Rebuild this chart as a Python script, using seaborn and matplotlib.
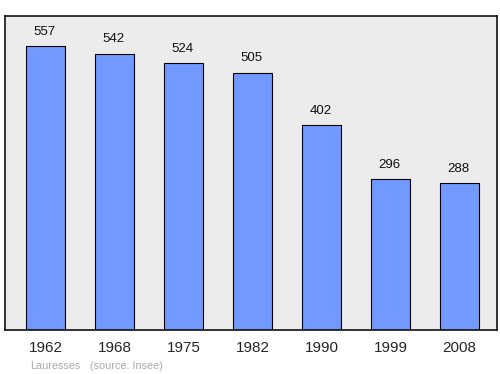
import matplotlib
matplotlib.use("Agg")
import matplotlib.pyplot as plt
import seaborn as sns
import pandas as pd

years = ["1962", "1968", "1975", "1982", "1990", "1999", "2008"]
population = [557, 542, 524, 505, 402, 296, 288]

sns.set_style("white")
plt.rcParams['font.family'] = ['Liberation Sans', 'DejaVu Sans']

df = pd.DataFrame({"year": years, "pop": population})

fig = plt.figure(figsize=(5, 3.74), dpi=100)
ax = fig.add_axes([0.01, 0.1176, 0.984, 0.8396])
sns.barplot(data=df, x="year", y="pop", color="#7299ff", saturation=1,
            edgecolor="#000000", linewidth=0.8, width=0.565, ax=ax)
ax.set_facecolor("#ececec")
for s in ax.spines.values():
    s.set_color("#111111")
    s.set_linewidth(1.2)
ax.set_xlim(-0.59, 6.54)
ax.set_ylim(0, 616)
ax.set_xlabel("")
ax.set_ylabel("")
ax.set_yticks([])
ax.tick_params(axis="x", length=0, labelsize=11, pad=8)
for i, v in enumerate(population):
    ax.annotate(str(v), (i, v), xytext=(-1, 6), textcoords="offset points",
                ha="center", va="bottom", fontsize=9.5, color="#111111")
fig.text(0.06, 0.008, "Lauresses", color="#aaaaaa", fontsize=7.8, ha="left", va="bottom")
fig.text(0.18, 0.008, "(source: Insee)", color="#aaaaaa", fontsize=7.8, ha="left", va="bottom")
fig.savefig("out.png", dpi=100)
